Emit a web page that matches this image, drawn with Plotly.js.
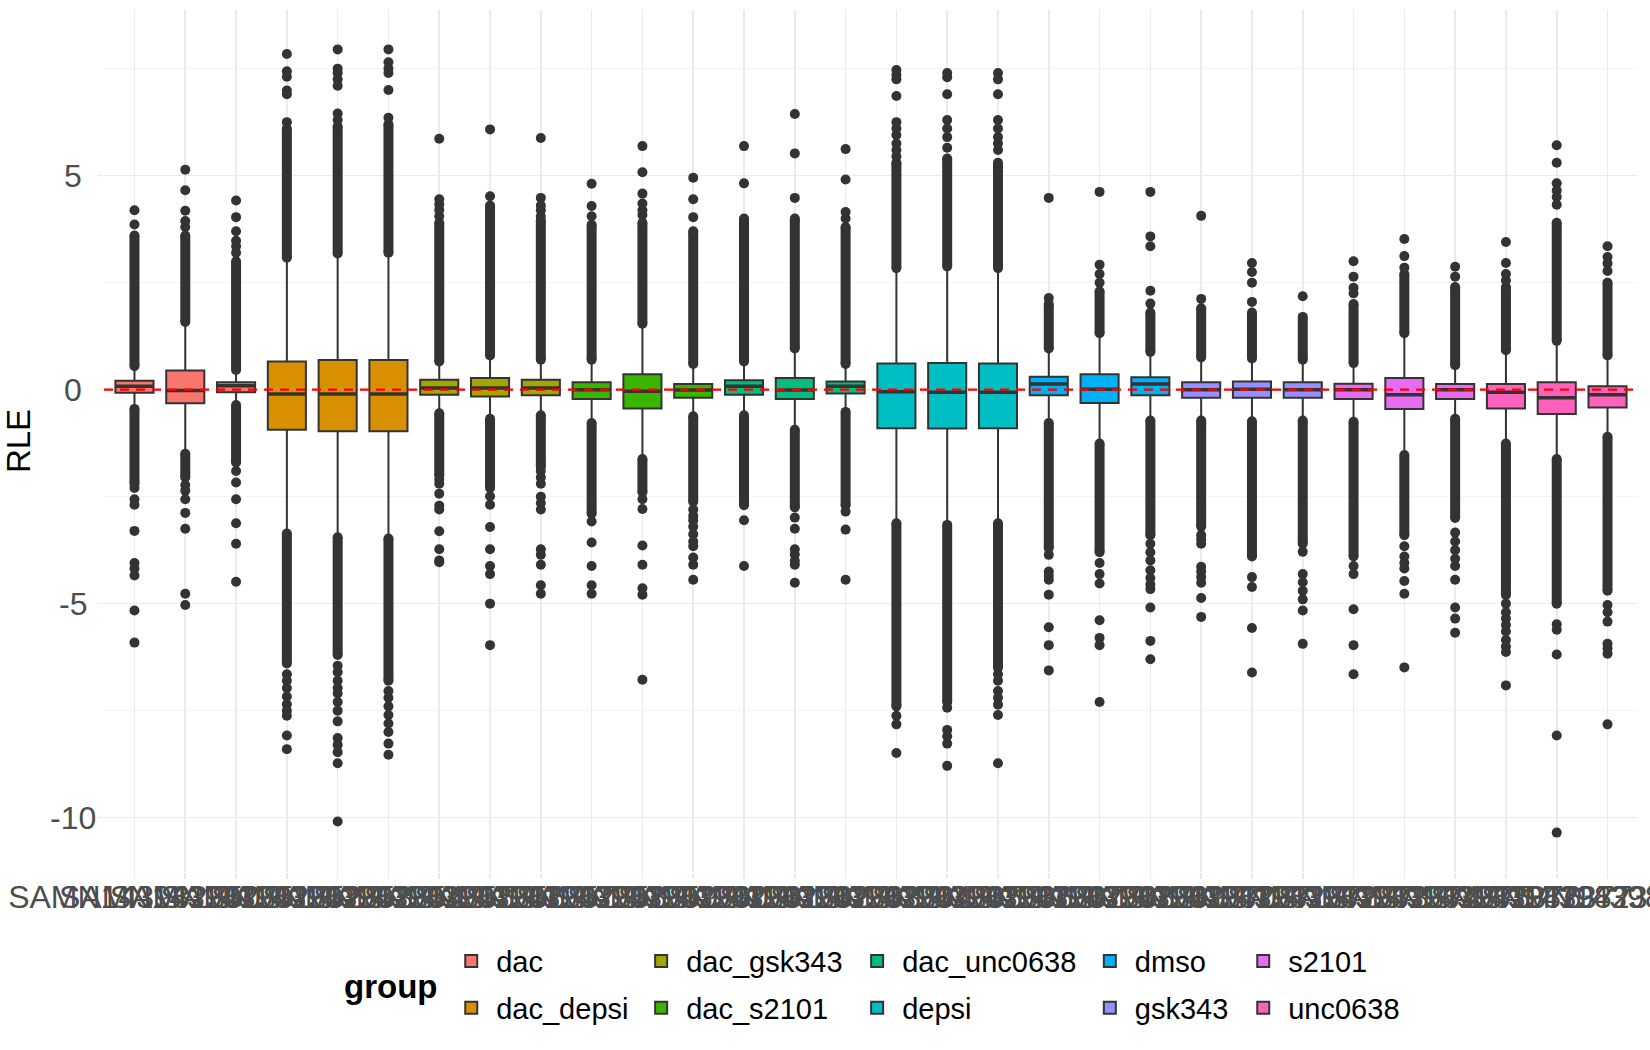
<!DOCTYPE html>
<html>
<head>
<meta charset="utf-8">
<script src="https://cdn.plot.ly/plotly-3.0.1.min.js"></script>
<style>
  body { margin: 0; background: #ffffff; }
  #chart { width: 1650px; height: 1050px; }
</style>
</head>
<body>
<div id="chart"></div>
<script>
var samples = [
  'SAMN143982350', 'SAMN143982351', 'SAMN143982352',
  'SAMN143982353', 'SAMN143982354', 'SAMN143982355',
  'SAMN143982356', 'SAMN143982357', 'SAMN143982358',
  'SAMN143982359', 'SAMN143982360', 'SAMN143982361',
  'SAMN143982362', 'SAMN143982363', 'SAMN143982364',
  'SAMN143982365', 'SAMN143982366', 'SAMN143982367',
  'SAMN143982368', 'SAMN143982369', 'SAMN143982370',
  'SAMN143982371', 'SAMN143982372', 'SAMN143982373',
  'SAMN143982374', 'SAMN143982375', 'SAMN143982376',
  'SAMN143982377', 'SAMN143982378', 'SAMN143982379'
];

var groupNames = ['dac', 'dac_depsi', 'dac_gsk343', 'dac_s2101', 'dac_unc0638',
                  'depsi', 'dmso', 'gsk343', 's2101', 'unc0638'];
var groupColours = ['#F8766D', '#D89000', '#A3A500', '#39B600', '#00BF7D',
                    '#00BFC4', '#00B0F6', '#9590FF', '#E76BF3', '#FF62BC'];
var sampleGroup = [0, 0, 0, 1, 1, 1, 2, 2, 2, 3, 3, 3, 4, 4, 4,
                   5, 5, 5, 6, 6, 6, 7, 7, 7, 8, 8, 8, 9, 9, 9];

var q1 = [-0.07, -0.32, -0.06, -0.94, -0.97, -0.97, -0.12, -0.16, -0.13, -0.22,
          -0.44, -0.19, -0.12, -0.22, -0.09, -0.90, -0.91, -0.90, -0.13, -0.31,
          -0.13, -0.19, -0.19, -0.19, -0.22, -0.45, -0.22, -0.44, -0.57, -0.42];
var median = [0.08, -0.02, 0.09, -0.10, -0.10, -0.10, 0.04, 0.04, 0.04, 0.00,
              -0.04, -0.01, 0.08, -0.01, 0.08, -0.05, -0.06, -0.06, 0.13, 0.01,
              0.13, 0.00, 0.01, 0.00, 0.00, -0.12, 0.00, -0.06, -0.19, -0.12];
var q3 = [0.21, 0.45, 0.17, 0.66, 0.69, 0.69, 0.23, 0.27, 0.23, 0.17,
          0.36, 0.13, 0.22, 0.27, 0.19, 0.61, 0.62, 0.61, 0.30, 0.36,
          0.29, 0.17, 0.19, 0.17, 0.14, 0.27, 0.13, 0.13, 0.17, 0.08];
var lowerWhisker = [-0.42, -1.45, -0.32, -3.31, -3.40, -3.44, -0.51, -0.64, -0.55, -0.74,
                    -1.58, -0.58, -0.55, -0.90, -0.48, -3.08, -3.12, -3.08, -0.74, -1.22,
                    -0.68, -0.68, -0.70, -0.68, -0.71, -1.49, -0.64, -1.22, -1.58, -1.06];
var upperWhisker = [0.52, 1.53, 0.43, 3.03, 3.13, 3.16, 0.62, 0.75, 0.66, 0.66,
                    1.49, 0.56, 0.62, 0.92, 0.56, 2.79, 2.83, 2.79, 0.92, 1.27,
                    0.84, 0.71, 0.69, 0.66, 0.58, 1.27, 0.53, 0.88, 1.10, 0.75];

// runs of outliers so packed they print as one solid bar
var denseHigh = [[0.55, 3.6], [1.58, 3.6], [0.46, 3.0], [3.08, 6.1], [3.18, 6.15], [3.2, 6.2],
                 [0.66, 3.9], [0.8, 4.3], [0.7, 3.95], [0.7, 3.85], [1.54, 3.9], [0.6, 3.7],
                 [0.66, 4.0], [0.96, 3.95], [0.6, 3.8], [2.84, 5.3], [2.88, 5.4], [2.84, 5.3],
                 [0.96, 2.0], [1.32, 2.3], [0.88, 1.8], [0.75, 1.9], [0.73, 1.8], [0.7, 1.7],
                 [0.62, 2.0], [1.32, 2.7], [0.57, 2.4], [0.92, 2.4], [1.14, 3.9], [0.8, 2.5]];
var denseLow = [[-0.45, -2.2], [-1.5, -2.05], [-0.36, -1.7], [-3.36, -6.4], [-3.45, -6.2], [-3.48, -6.8],
                [-0.55, -2.0], [-0.68, -2.3], [-0.6, -1.8], [-0.78, -2.9], [-1.62, -2.4], [-0.62, -2.62],
                [-0.6, -2.7], [-0.94, -2.75], [-0.52, -2.7], [-3.12, -7.4], [-3.16, -7.3], [-3.12, -6.5],
                [-0.78, -3.7], [-1.26, -3.8], [-0.72, -3.4], [-0.72, -3.2], [-0.74, -3.9], [-0.72, -3.6],
                [-0.75, -3.9], [-1.53, -3.4], [-0.68, -3.0], [-1.26, -4.8], [-1.62, -5.0], [-1.1, -4.7]];

// the loose outliers beyond the solid runs
var outliers = [
  [3.86, 4.19, -2.3, -2.56, -2.69, -3.3, -4.05, -4.18, -4.34, -5.16, -5.91],
  [3.8, 3.94, 4.18, 4.66, 5.14, -2.23, -2.36, -2.56, -2.88, -3.25, -4.77, -5.03],
  [3.2, 3.35, 3.48, 3.7, 4.03, 4.42, -1.9, -2.17, -2.56, -3.12, -3.6, -4.49],
  [6.25, 6.9, 6.99, 7.31, 7.44, 7.84, -6.65, -6.8, -6.97, -7.17, -7.35, -7.5, -7.62, -8.08, -8.4],
  [6.3, 6.45, 7.1, 7.25, 7.4, 7.5, 7.95, -6.45, -6.6, -6.8, -6.97, -7.1, -7.3, -7.5, -7.75, -8.14, -8.3, -8.47, -8.73, -10.09],
  [6.35, 7.0, 7.4, 7.5, 7.65, 7.95, -7.04, -7.2, -7.4, -7.6, -7.8, -8.0, -8.27, -8.53],
  [4.05, 4.2, 4.33, 4.45, 5.86, -2.1, -2.2, -2.43, -2.71, -2.8, -3.31, -3.73, -3.99, -4.03],
  [4.52, 6.08, -2.49, -2.69, -3.21, -3.73, -4.12, -4.31, -5.0, -5.97],
  [4.05, 4.19, 4.3, 4.48, 5.88, -1.9, -2.05, -2.2, -2.5, -2.65, -2.8, -3.73, -3.86, -4.09, -4.57, -4.77],
  [4.05, 4.29, 4.81, -3.08, -3.57, -4.12, -4.57, -4.77],
  [4.08, 4.19, 4.35, 4.58, 5.08, 5.69, -2.56, -2.79, -3.64, -4.09, -4.64, -4.79, -6.78],
  [4.03, 4.45, 4.95, -2.8, -2.95, -3.05, -3.2, -3.38, -3.55, -3.66, -3.92, -4.09, -4.44],
  [4.82, 5.69, -3.05, -4.12],
  [4.0, 4.48, 5.52, 6.44, -2.99, -3.25, -3.73, -3.85, -4.0, -4.09, -4.51],
  [4.0, 4.15, 4.91, 5.62, -2.85, -3.27, -4.44],
  [5.45, 5.6, 5.75, 5.95, 6.1, 6.25, 6.86, 7.25, 7.35, 7.47, -7.62, -7.82, -8.49],
  [5.65, 5.9, 6.1, 6.3, 6.9, 7.3, 7.4, -7.43, -7.95, -8.1, -8.27, -8.79],
  [5.6, 5.75, 5.9, 6.1, 6.3, 6.9, 7.25, 7.4, -6.65, -6.8, -7.04, -7.2, -7.36, -7.6, -8.73],
  [2.14, 4.48, -3.86, -4.25, -4.35, -4.44, -4.79, -5.55, -5.97, -6.56],
  [2.5, 2.7, 2.92, 4.62, -4.05, -4.31, -4.53, -5.39, -5.8, -5.97, -7.3],
  [2.01, 2.31, 3.35, 3.58, 4.62, -3.6, -3.8, -3.99, -4.22, -4.4, -4.55, -4.66, -5.09, -5.87, -6.3],
  [2.12, 4.06, -3.4, -3.5, -3.6, -4.14, -4.25, -4.38, -4.51, -4.87, -5.31],
  [2.05, 2.5, 2.75, 2.96, -4.38, -4.61, -5.57, -6.61],
  [2.18, -3.79, -4.31, -4.5, -4.7, -4.9, -5.16, -5.94],
  [2.25, 2.38, 2.64, 3.0, -4.12, -4.31, -5.13, -5.97, -6.65],
  [2.85, 3.12, 3.52, -3.66, -3.9, -4.05, -4.18, -4.47, -4.77, -6.49],
  [2.64, 2.87, -3.34, -3.55, -3.75, -3.95, -4.12, -4.44, -5.09, -5.35, -5.68],
  [2.55, 2.7, 2.96, 3.45, -5.0, -5.2, -5.35, -5.5, -5.65, -5.85, -6.0, -6.13, -6.91],
  [4.32, 4.5, 4.65, 4.82, 5.3, 5.71, -5.48, -5.61, -6.19, -8.08, -10.35],
  [2.77, 2.95, 3.1, 3.35, -5.03, -5.2, -5.42, -5.94, -6.05, -6.17, -7.82]
];

var yTicks = [-10, -5, 0, 5];
var yTickText = ['-10', '-5', '0', '5'];
var yMinor = [-7.5, -2.5, 2.5, 7.5];

// legend columns (left edge as a fraction of the plot width), two groups each
var legendColumns = [0.2231, 0.3469, 0.4877, 0.6394, 0.7394];

var fontFamily = 'Liberation Sans, Arial, sans-serif';
var boxWidth = 0.75;
var data = [];

for (var g = 0; g < groupNames.length; g++) {
  var idx = [];
  for (var i = 0; i < samples.length; i++) {
    if (sampleGroup[i] == g) idx.push(i);
  }
  var col = Math.floor(g / 2);
  data.push({
    type: 'box',
    name: groupNames[g],
    x: idx.map(function(i) { return samples[i]; }),
    q1: idx.map(function(i) { return q1[i]; }),
    median: idx.map(function(i) { return median[i]; }),
    q3: idx.map(function(i) { return q3[i]; }),
    lowerfence: idx.map(function(i) { return lowerWhisker[i]; }),
    upperfence: idx.map(function(i) { return upperWhisker[i]; }),
    boxpoints: false,
    width: boxWidth,
    whiskerwidth: 0,
    fillcolor: groupColours[g],
    line: {color: '#333333', width: 2},
    legend: col == 0 ? 'legend' : 'legend' + (col + 1),
    legendgroup: groupNames[g],
    hoverinfo: 'skip'
  });
}

var bandX = [];
var bandY = [];
var pointX = [];
var pointY = [];
var medX = [];
var medY = [];
for (var i = 0; i < samples.length; i++) {
  bandX.push(samples[i], samples[i], null, samples[i], samples[i], null);
  bandY.push(denseHigh[i][0], denseHigh[i][1], null, denseLow[i][0], denseLow[i][1], null);
  for (var j = 0; j < outliers[i].length; j++) {
    pointX.push(samples[i]);
    pointY.push(outliers[i][j]);
  }
  // ggplot draws the median heavier than the box outline
  medX.push(i - boxWidth / 2, i + boxWidth / 2, null);
  medY.push(median[i], median[i], null);
}

data.push({
  type: 'scatter',
  mode: 'lines+markers',
  x: bandX,
  y: bandY,
  connectgaps: false,
  line: {color: '#333333', width: 10},
  marker: {color: '#333333', size: 10},
  showlegend: false,
  hoverinfo: 'skip'
});

data.push({
  type: 'scatter',
  mode: 'markers',
  x: pointX,
  y: pointY,
  marker: {color: '#333333', size: 10},
  showlegend: false,
  hoverinfo: 'skip'
});

data.push({
  type: 'scatter',
  mode: 'lines',
  xaxis: 'x2',
  x: medX,
  y: medY,
  connectgaps: false,
  line: {color: '#333333', width: 3.5},
  showlegend: false,
  hoverinfo: 'skip'
});

function legendAt(x) {
  return {
    xref: 'paper', yref: 'paper',
    x: x, y: -0.0738,
    xanchor: 'left', yanchor: 'top',
    orientation: 'v',
    bgcolor: 'rgba(0,0,0,0)',
    borderwidth: 0,
    itemwidth: 40,
    traceorder: 'grouped',
    tracegroupgap: 6,
    font: {family: fontFamily, size: 29, color: '#000000'}
  };
}

// y labels are centred under each other in the original, so they are written as annotations
var annotations = yTicks.map(function(v, k) {
  return {
    text: yTickText[k],
    xref: 'paper', yref: 'y',
    x: -0.0202, y: v,
    xanchor: 'center', yanchor: 'middle',
    showarrow: false,
    font: {family: fontFamily, size: 32, color: '#4D4D4D'}
  };
});
annotations.push({
  text: '<b>group</b>',
  xref: 'paper', yref: 'paper',
  x: 0.187, y: -0.1334,
  xanchor: 'center', yanchor: 'middle',
  showarrow: false,
  font: {family: fontFamily, size: 33, color: '#000000'}
});

var layout = {
  width: 1650,
  height: 1050,
  margin: {l: 104, r: 12, t: 10, b: 178},
  paper_bgcolor: '#ffffff',
  plot_bgcolor: '#ffffff',
  font: {family: fontFamily, color: '#000000'},
  showlegend: true,
  boxmode: 'overlay',
  xaxis: {
    type: 'category',
    categoryorder: 'array',
    categoryarray: samples,
    range: [-0.6, 29.6],
    showgrid: true,
    gridcolor: '#EBEBEB',
    gridwidth: 1.6,
    zeroline: false,
    showline: false,
    ticks: 'outside',
    ticklen: 6,
    tickwidth: 1.6,
    tickcolor: '#EBEBEB',
    tickangle: 0,
    ticklabelstandoff: -9,
    tickfont: {family: fontFamily, size: 32, color: '#4D4D4D'},
    automargin: false
  },
  xaxis2: {
    overlaying: 'x',
    range: [-0.6, 29.6],
    visible: false,
    showgrid: false,
    zeroline: false
  },
  yaxis: {
    range: [-11.27, 8.87],
    tickmode: 'array',
    tickvals: yTicks,
    showticklabels: false,
    showgrid: true,
    gridcolor: '#EBEBEB',
    gridwidth: 1.6,
    zeroline: false,
    showline: false,
    ticks: 'outside',
    ticklen: 6,
    tickwidth: 1.6,
    tickcolor: '#EBEBEB',
    minor: {tickvals: yMinor, showgrid: true, gridcolor: '#F4F4F4', gridwidth: 1, ticks: ''},
    title: {text: 'RLE', font: {family: fontFamily, size: 33, color: '#000000'}, standoff: 62},
    automargin: false
  },
  shapes: [{
    type: 'line', xref: 'paper', yref: 'y',
    x0: 0, x1: 1, y0: 0, y1: 0,
    line: {color: '#FF0000', width: 2.2, dash: '9px,7px'}
  }],
  annotations: annotations,
  legend: legendAt(legendColumns[0]),
  legend2: legendAt(legendColumns[1]),
  legend3: legendAt(legendColumns[2]),
  legend4: legendAt(legendColumns[3]),
  legend5: legendAt(legendColumns[4])
};

Plotly.newPlot('chart', data, layout, {displayModeBar: false, staticPlot: true});
</script>
</body>
</html>
